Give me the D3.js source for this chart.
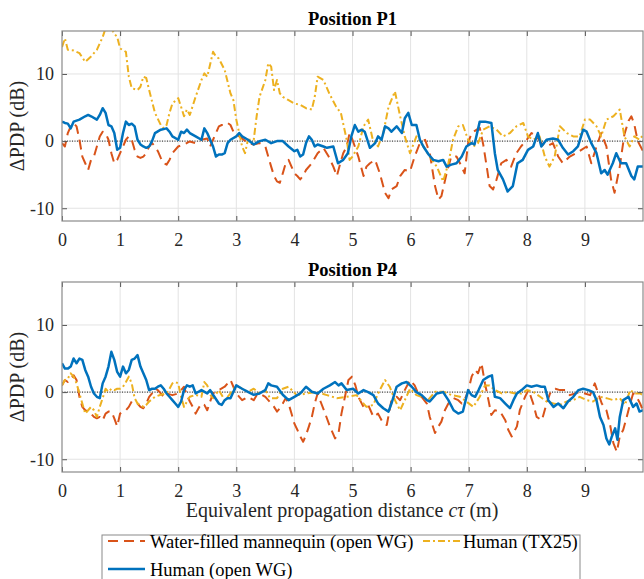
<!DOCTYPE html>
<html><head><meta charset="utf-8">
<script src="https://cdn.jsdelivr.net/npm/d3@7"></script>
</head><body style="margin:0;background:#fff">
<svg id="c" width="644" height="579"></svg>
<script>
// ---------- data ----------
const xTicks = [0,1,2,3,4,5,6,7,8,9];
const yTicks = [-10,0,10];
const xDomain = [0,10];
const yDomain = [-11.9,16.4];
const seriesNames = ["Water-filled mannequin (open WG)","Human (TX25)","Human (open WG)"];
const panelTitles = ["Position P1","Position P4"];

const p1Mannequin = [[0,-0.3],[0.05,-0.8],[0.1,1.2],[0.15,2.2],[0.2,2.7],[0.25,2.2],[0.3,0.2],[0.35,-2.3],[0.4,-3.3],[0.45,-4.3],[0.5,-2.8],[0.55,-2.3],[0.6,-0.8],[0.65,0.7],[0.7,1.4],[0.75,1.2],[0.8,0.2],[0.85,-1.8],[0.9,-3.3],[0.95,-2.8],[1.0,-1.8],[1.05,-0.8],[1.1,0.2],[1.15,0.7],[1.2,0.2],[1.25,-1.3],[1.3,-2.3],[1.35,-2.5],[1.4,-2.3],[1.45,-1.8],[1.5,-0.8],[1.55,-0.3],[1.6,-0.8],[1.65,-1.5],[1.7,-2.5],[1.75,-3.3],[1.8,-3.5],[1.85,-2.8],[1.9,-1.8],[2.0,-0.8],[2.1,-0.5],[2.2,-0.05],[2.3,-0.3],[2.4,0.2],[2.5,0.4],[2.55,-0.8],[2.6,0.2],[2.65,1.2],[2.7,2.2],[2.75,2.4],[2.8,2.4],[2.85,2.7],[2.9,2.4],[2.95,1.4],[3.0,1.2],[3.05,0.7],[3.1,0.4],[3.2,-0.3],[3.3,-0.5],[3.4,-0.3],[3.5,-0.8],[3.55,-2.3],[3.6,-3.8],[3.65,-5.2],[3.7,-6.0],[3.75,-6.2],[3.8,-4.8],[3.85,-3.3],[3.9,-2.8],[3.95,-3.8],[4.0,-4.8],[4.05,-5.2],[4.1,-5.7],[4.15,-5.2],[4.2,-4.3],[4.3,-3.3],[4.4,-1.8],[4.5,-1.0],[4.59,-2.3],[4.67,-3.8],[4.73,-5.2],[4.79,-3.3],[4.84,-1.8],[4.9,-0.8],[4.95,1.2],[5.0,0.2],[5.1,-2.3],[5.19,-5.2],[5.24,-3.8],[5.3,-3.3],[5.39,-2.8],[5.47,-4.8],[5.56,-7.7],[5.62,-8.5],[5.67,-7.2],[5.76,-6.7],[5.82,-5.2],[5.9,-4.3],[5.99,-4.5],[6.07,-2.3],[6.16,-0.3],[6.25,0.2],[6.33,-1.8],[6.42,-6.7],[6.48,-8.7],[6.53,-8.2],[6.62,-4.8],[6.7,-2.3],[6.79,-2.3],[6.85,-3.3],[6.93,-4.8],[6.99,-0.3],[7.05,1.2],[7.1,1.5],[7.19,2.0],[7.25,-0.5],[7.31,-3.8],[7.36,-6.7],[7.42,-7.2],[7.48,-5.7],[7.56,-3.3],[7.65,-2.8],[7.73,-3.8],[7.82,-1.8],[7.9,-0.8],[8.0,0.2],[8.08,1.2],[8.17,0.7],[8.25,-0.3],[8.34,-0.8],[8.45,-0.3],[8.54,-2.3],[8.62,-3.3],[8.74,-2.3],[8.85,-1.8],[8.94,-1.3],[9.03,-0.8],[9.11,-3.3],[9.2,-0.8],[9.28,1.2],[9.37,-0.8],[9.45,-5.7],[9.51,-7.7],[9.6,-3.8],[9.68,1.0],[9.75,3.0],[9.8,3.7],[9.85,2.5],[9.91,0.0],[10.0,-1.5]];

const p1Tx25 = [[0,14.0],[0.05,15.3],[0.1,13.6],[0.2,13.5],[0.3,13.1],[0.4,11.8],[0.5,12.6],[0.6,13.6],[0.7,15.5],[0.75,16.8],[0.8,16.3],[0.85,16.8],[0.9,16.0],[0.95,15.5],[1.0,13.8],[1.1,13.3],[1.15,9.6],[1.2,7.9],[1.3,7.6],[1.35,8.1],[1.4,9.6],[1.45,9.4],[1.5,7.6],[1.6,4.2],[1.7,2.4],[1.75,1.9],[1.8,2.4],[1.85,4.2],[1.9,5.6],[2.0,6.4],[2.05,5.1],[2.1,3.7],[2.15,4.7],[2.2,3.9],[2.3,6.6],[2.4,9.1],[2.45,10.1],[2.5,9.6],[2.6,13.3],[2.65,12.6],[2.7,12.3],[2.8,10.6],[2.9,7.1],[2.95,6.1],[3.0,3.2],[3.05,1.2],[3.1,-0.8],[3.15,-1.8],[3.2,0.2],[3.3,0.2],[3.35,3.7],[3.4,6.6],[3.5,9.1],[3.55,11.6],[3.6,11.1],[3.65,7.6],[3.7,9.1],[3.75,7.1],[3.8,6.6],[3.9,6.1],[4.0,5.6],[4.1,5.4],[4.2,4.9],[4.3,4.7],[4.35,6.6],[4.4,9.6],[4.5,9.1],[4.6,7.1],[4.72,5.1],[4.8,4.2],[4.9,0.2],[4.95,-2.8],[5.0,-2.3],[5.1,-0.8],[5.19,2.2],[5.27,3.2],[5.35,0.2],[5.44,-0.8],[5.53,1.2],[5.62,5.1],[5.73,7.4],[5.82,3.7],[5.9,0.7],[5.99,-1.8],[6.1,0.7],[6.22,-0.8],[6.33,-2.3],[6.45,-3.8],[6.56,-6.0],[6.65,-3.3],[6.73,0.2],[6.82,2.2],[6.9,2.4],[6.99,0.2],[7.08,-0.8],[7.16,-0.3],[7.25,1.7],[7.36,2.2],[7.48,1.7],[7.59,0.7],[7.71,1.2],[7.82,2.2],[7.94,2.7],[8.02,0.7],[8.11,0.2],[8.22,0.7],[8.31,-2.3],[8.39,-3.8],[8.48,-2.3],[8.57,2.2],[8.69,1.2],[8.8,0.7],[8.91,0.7],[9.0,3.2],[9.09,3.2],[9.2,2.2],[9.28,0.7],[9.37,3.2],[9.49,3.7],[9.6,4.7],[9.68,0.7],[9.77,-0.8],[9.85,0.7],[9.94,0.2],[10.0,0.9]];

const p1Human = [[0,2.9],[0.05,2.7],[0.1,2.6],[0.15,1.9],[0.2,2.9],[0.3,3.2],[0.4,3.7],[0.45,3.9],[0.5,3.7],[0.6,3.2],[0.65,3.9],[0.7,4.9],[0.75,4.2],[0.8,2.4],[0.85,2.2],[0.9,1.2],[0.95,-1.3],[1.0,-1.0],[1.05,1.2],[1.1,2.9],[1.15,2.4],[1.2,2.6],[1.25,2.2],[1.3,0.2],[1.35,-0.5],[1.4,-0.8],[1.45,-1.0],[1.5,-0.8],[1.55,0.0],[1.6,1.2],[1.7,1.7],[1.8,1.9],[1.85,1.4],[1.9,0.7],[2.0,0.2],[2.05,1.4],[2.1,1.2],[2.15,1.7],[2.2,1.2],[2.3,0.7],[2.4,0.2],[2.45,1.9],[2.5,1.2],[2.6,-0.8],[2.65,-2.3],[2.7,-2.0],[2.75,-2.0],[2.8,-1.8],[2.85,-0.3],[2.9,0.2],[3.0,0.7],[3.05,1.2],[3.1,0.7],[3.2,0.2],[3.3,-0.5],[3.4,0.0],[3.5,0.2],[3.6,-0.3],[3.7,0.0],[3.8,0.0],[3.9,-0.8],[4.0,-1.5],[4.05,-1.3],[4.1,-2.3],[4.15,-2.0],[4.2,-0.3],[4.25,0.7],[4.3,0.2],[4.35,-0.8],[4.4,-0.5],[4.5,-0.8],[4.56,-1.0],[4.67,-0.8],[4.75,-3.3],[4.84,-2.8],[4.92,-1.8],[4.98,0.7],[5.04,2.4],[5.1,1.4],[5.16,1.7],[5.21,1.4],[5.3,-1.0],[5.39,-0.3],[5.44,0.7],[5.5,0.2],[5.56,2.2],[5.62,1.9],[5.67,1.4],[5.76,2.2],[5.85,1.2],[5.9,3.4],[5.96,4.2],[6.02,2.4],[6.1,2.4],[6.16,0.2],[6.22,-0.8],[6.31,-2.0],[6.39,-2.8],[6.48,-3.0],[6.56,-2.8],[6.62,-3.8],[6.7,-3.5],[6.79,-3.3],[6.88,-2.3],[6.96,-0.8],[7.05,-0.3],[7.1,-0.5],[7.19,2.9],[7.28,2.9],[7.39,2.7],[7.45,-1.8],[7.5,-4.3],[7.59,-5.7],[7.67,-7.5],[7.76,-6.7],[7.84,-3.3],[7.93,-2.8],[8.02,-1.3],[8.11,-0.8],[8.19,1.2],[8.25,-0.8],[8.34,0.2],[8.45,0.4],[8.54,0.2],[8.62,-1.0],[8.71,-2.0],[8.8,-1.5],[8.88,-0.8],[8.97,1.7],[9.03,1.4],[9.11,-0.3],[9.2,-1.8],[9.28,-4.8],[9.34,-4.3],[9.39,-5.0],[9.48,-3.3],[9.54,-1.8],[9.62,-3.3],[9.71,-3.3],[9.8,-5.2],[9.85,-5.7],[9.91,-3.8],[10.0,-3.8]];

const p4Mannequin = [[0,1.0],[0.05,1.8],[0.1,1.5],[0.15,2.0],[0.2,2.5],[0.25,1.8],[0.3,-0.7],[0.35,-2.2],[0.4,-2.7],[0.45,-2.9],[0.5,-3.2],[0.55,-3.7],[0.6,-3.9],[0.65,-3.7],[0.7,-4.2],[0.75,-3.2],[0.8,-2.9],[0.85,-2.9],[0.9,-3.9],[0.95,-5.1],[1.0,-3.2],[1.05,-2.9],[1.1,-2.7],[1.15,-2.2],[1.2,-1.4],[1.25,-1.4],[1.3,-1.7],[1.35,-2.2],[1.4,-2.4],[1.45,-1.7],[1.5,-0.7],[1.55,-0.2],[1.6,0.5],[1.65,0.3],[1.7,-0.2],[1.75,-0.7],[1.8,-0.2],[1.9,-0.45],[2.0,-0.2],[2.05,0.3],[2.1,0.8],[2.15,-0.45],[2.2,-1.4],[2.25,-2.2],[2.3,-3.2],[2.35,-2.4],[2.4,-1.7],[2.45,-1.9],[2.5,-2.7],[2.55,-1.4],[2.6,-0.2],[2.7,0.3],[2.8,0.8],[2.85,1.3],[2.9,1.8],[2.95,0.8],[3.0,-0.2],[3.05,-0.7],[3.1,-1.2],[3.2,-0.7],[3.3,-1.2],[3.35,-0.45],[3.4,-0.2],[3.5,-0.7],[3.6,-1.7],[3.65,-2.2],[3.7,-2.9],[3.75,-2.4],[3.8,-1.7],[3.85,-0.9],[3.9,-1.7],[3.95,-3.2],[4.0,-4.7],[4.05,-5.6],[4.1,-6.6],[4.15,-7.4],[4.2,-6.4],[4.25,-5.1],[4.3,-3.7],[4.35,-1.7],[4.4,-0.2],[4.45,-1.4],[4.53,-3.2],[4.61,-5.1],[4.7,-6.9],[4.76,-6.1],[4.81,-3.2],[4.87,-0.7],[4.93,1.8],[4.99,2.3],[5.05,1.0],[5.1,-0.7],[5.19,-2.2],[5.27,-1.9],[5.36,-3.7],[5.44,-3.2],[5.53,-4.7],[5.59,-4.9],[5.67,-1.2],[5.76,-0.7],[5.82,-1.2],[5.9,0.3],[5.99,1.8],[6.07,1.0],[6.13,-0.2],[6.19,-0.7],[6.28,-1.7],[6.33,-3.7],[6.42,-6.1],[6.48,-5.1],[6.53,-4.4],[6.59,-2.7],[6.65,-1.7],[6.74,-0.9],[6.82,-1.2],[6.88,-1.7],[6.94,-0.9],[6.99,0.05],[7.05,2.3],[7.11,3.3],[7.16,2.8],[7.22,4.3],[7.28,1.3],[7.34,-1.2],[7.39,-3.4],[7.45,-2.7],[7.54,-2.9],[7.63,-4.2],[7.68,-5.6],[7.74,-6.6],[7.83,-5.1],[7.88,-2.7],[7.97,-0.7],[8.03,0.3],[8.11,-1.7],[8.17,-3.7],[8.26,-4.2],[8.34,-1.7],[8.4,-0.2],[8.49,0.5],[8.57,0.3],[8.66,0.3],[8.74,-0.45],[8.83,-0.2],[8.91,0.05],[9.0,-0.2],[9.09,-0.45],[9.17,1.3],[9.23,-0.2],[9.29,-1.7],[9.37,-2.7],[9.43,-4.7],[9.49,-7.6],[9.55,-8.9],[9.6,-6.6],[9.66,-5.6],[9.72,-3.7],[9.78,-1.7],[9.83,-0.2],[9.89,-0.7],[9.95,-1.7],[10.0,-2.7]];

const p4Tx25 = [[0,1.0],[0.05,1.8],[0.1,2.0],[0.15,2.8],[0.2,2.3],[0.25,1.3],[0.3,-0.2],[0.35,-1.7],[0.4,-3.2],[0.45,-2.7],[0.5,-2.2],[0.55,-2.7],[0.6,-3.7],[0.65,-2.2],[0.7,-0.9],[0.75,0.5],[0.8,0.05],[0.85,0.5],[0.9,0.3],[0.95,0.5],[1.0,0.5],[1.05,0.8],[1.1,1.5],[1.15,2.3],[1.2,1.3],[1.25,-0.9],[1.3,-1.7],[1.35,-1.9],[1.4,-2.2],[1.45,-1.9],[1.5,-1.4],[1.6,-0.7],[1.7,-0.4],[1.8,-0.2],[1.85,0.5],[1.9,1.3],[1.95,1.5],[2.0,1.3],[2.05,-0.7],[2.1,-2.2],[2.15,-1.4],[2.2,-0.7],[2.3,-0.4],[2.4,-0.7],[2.45,1.5],[2.5,1.0],[2.55,-0.4],[2.6,-0.9],[2.7,0.3],[2.8,-1.2],[2.9,-0.2],[3.0,1.0],[3.1,0.5],[3.2,0.05],[3.3,0.5],[3.4,-0.2],[3.5,0.3],[3.58,-0.9],[3.7,-0.9],[3.8,0.5],[3.9,0.8],[4.04,-0.45],[4.1,-0.4],[4.21,-0.2],[4.38,0.0],[4.56,-0.45],[4.73,-0.9],[4.9,-0.7],[5.07,-0.45],[5.16,-1.4],[5.24,-2.2],[5.36,-1.9],[5.44,-0.2],[5.56,1.8],[5.64,0.8],[5.73,-1.2],[5.82,-2.7],[5.9,-1.2],[5.99,0.5],[6.1,-0.45],[6.19,-0.7],[6.3,-1.2],[6.42,0.05],[6.56,0.05],[6.71,-0.45],[6.85,-0.7],[6.96,-1.4],[7.08,-2.2],[7.19,-0.7],[7.28,1.0],[7.36,1.0],[7.45,0.3],[7.57,-0.2],[7.68,0.05],[7.8,-0.2],[7.91,-0.2],[8.0,0.3],[8.11,0.05],[8.23,-0.7],[8.34,-1.4],[8.46,-1.7],[8.57,-1.9],[8.69,-1.4],[8.8,-1.2],[8.91,-0.7],[9.03,-1.2],[9.14,-1.4],[9.26,-0.7],[9.37,-0.9],[9.49,-1.2],[9.6,-0.9],[9.69,-1.9],[9.78,0.3],[9.86,-0.2],[9.95,-0.2],[10.0,-0.45]];

const p4Human = [[0,4.3],[0.05,3.5],[0.1,3.5],[0.15,3.8],[0.2,5.0],[0.25,4.3],[0.3,5.0],[0.35,4.8],[0.4,3.3],[0.45,2.3],[0.5,0.8],[0.55,-0.2],[0.6,-0.7],[0.65,-0.9],[0.7,1.3],[0.75,2.3],[0.8,3.8],[0.85,6.0],[0.9,4.8],[0.95,3.0],[1.0,2.3],[1.05,3.8],[1.1,2.8],[1.15,3.3],[1.2,4.8],[1.25,5.0],[1.3,5.5],[1.35,3.8],[1.4,2.8],[1.45,1.8],[1.5,0.3],[1.55,0.5],[1.6,0.5],[1.65,0.8],[1.7,1.0],[1.75,0.5],[1.8,-0.2],[1.85,-0.7],[1.9,-1.2],[1.95,-1.7],[2.0,-2.2],[2.05,-1.4],[2.1,0.3],[2.15,1.0],[2.2,0.8],[2.25,1.0],[2.3,-0.2],[2.35,0.05],[2.4,0.3],[2.5,-0.2],[2.55,0.3],[2.6,-0.4],[2.7,-1.7],[2.75,-1.9],[2.8,-1.2],[2.85,-0.9],[2.9,-0.9],[3.0,1.0],[3.1,0.5],[3.2,0.05],[3.3,-0.4],[3.4,-0.2],[3.5,0.3],[3.55,1.3],[3.6,1.0],[3.7,0.8],[3.8,-0.4],[3.9,-1.2],[4.0,-0.7],[4.1,-0.2],[4.2,0.8],[4.3,0.05],[4.4,-0.2],[4.5,0.5],[4.61,1.0],[4.7,1.5],[4.76,1.0],[4.81,1.3],[4.9,0.3],[5.01,0.5],[5.1,-0.2],[5.19,0.3],[5.27,0.0],[5.36,-0.45],[5.44,-1.7],[5.53,-2.4],[5.62,-2.9],[5.67,-1.7],[5.76,0.8],[5.85,1.3],[5.93,1.5],[6.02,0.8],[6.1,0.0],[6.19,-0.45],[6.28,-1.2],[6.33,-1.4],[6.45,-0.2],[6.56,0.0],[6.65,-1.2],[6.74,-2.7],[6.82,-3.2],[6.9,-2.9],[6.99,0.3],[7.05,-0.45],[7.11,-0.7],[7.17,0.3],[7.25,1.8],[7.34,2.3],[7.4,2.5],[7.45,-0.7],[7.54,-0.9],[7.63,-1.7],[7.71,-2.4],[7.77,-1.2],[7.83,-0.2],[7.91,0.3],[8.0,1.0],[8.08,0.8],[8.17,1.0],[8.25,0.8],[8.31,0.8],[8.37,-1.2],[8.46,-2.2],[8.54,-1.7],[8.63,-2.4],[8.71,-1.4],[8.8,-0.7],[8.89,0.3],[8.97,0.5],[9.06,0.3],[9.14,0.0],[9.2,-1.2],[9.26,-3.7],[9.32,-4.9],[9.37,-6.9],[9.42,-7.8],[9.46,-6.7],[9.52,-5.4],[9.56,-7.1],[9.6,-3.7],[9.66,-1.2],[9.75,-0.7],[9.83,-2.2],[9.89,-1.7],[9.94,-2.9],[10.0,-2.7]];

// ---------- styles ----------
const FONT = "Liberation Serif";
const colors = {mannequin:"#D95319", tx25:"#EDB120", human:"#0072BD"};
const styles = [
  {key:"mannequin", dash:"10,6", width:2},
  {key:"tx25", dash:"7,3,2,3", width:2},
  {key:"human", dash:null, width:2.5}
];

const svg = d3.select("#c");
const L = 62, R = 643;
const x = d3.scaleLinear().domain(xDomain).range([L,R]);

function txt(sel, size, weight){
  return sel.attr("font-family",FONT).attr("font-size",size+"px")
    .attr("font-weight",weight||"normal");
}

function panel(top, bottom, title, data, idx){
  const y = d3.scaleLinear().domain(yDomain).range([bottom, top]);
  const g = svg.append("g");
  const cid = "clip"+idx;
  svg.append("clipPath").attr("id",cid).append("rect")
    .attr("x",L).attr("y",top).attr("width",R-L).attr("height",bottom-top);
  g.selectAll(".gx").data(xTicks.slice(1)).enter().append("line")
    .attr("x1",d=>x(d)).attr("x2",d=>x(d)).attr("y1",top).attr("y2",bottom)
    .attr("stroke","#e3e3e3").attr("stroke-width",1);
  g.selectAll(".gy").data(yTicks).enter().append("line")
    .attr("x1",L).attr("x2",R).attr("y1",d=>y(d)).attr("y2",d=>y(d))
    .attr("stroke","#e3e3e3").attr("stroke-width",1);
  g.append("line").attr("x1",L).attr("x2",R).attr("y1",y(0)).attr("y2",y(0))
    .attr("stroke","#222").attr("stroke-width",1).attr("stroke-dasharray","1,1.5");
  const line = d3.line().x(d=>x(d[0])).y(d=>y(d[1]));
  const lg = g.append("g").attr("clip-path",`url(#${cid})`);
  data.forEach((arr,i)=>{
    const s = styles[i];
    lg.append("path").datum(arr).attr("d",line).attr("fill","none")
      .attr("stroke",colors[s.key]).attr("stroke-width",s.width)
      .attr("stroke-linejoin","round")
      .attr("stroke-dasharray",s.dash);
  });
  const ax = g.append("g").attr("transform",`translate(0,${bottom})`)
    .call(d3.axisBottom(x).tickValues(xTicks).tickSize(-5).tickPadding(12).tickFormat(d3.format("d")));
  const axTop = g.append("g").attr("transform",`translate(0,${top})`)
    .call(d3.axisTop(x).tickValues(xTicks).tickSize(-5).tickFormat(""));
  const ay = g.append("g").attr("transform",`translate(${L},0)`)
    .call(d3.axisLeft(y).tickValues(yTicks).tickSize(-5).tickPadding(8).tickFormat(d=>d<0?"-"+Math.abs(d):d));
  const ayR = g.append("g").attr("transform",`translate(${R},0)`)
    .call(d3.axisRight(y).tickValues(yTicks).tickSize(-5).tickFormat(""));
  [ax,axTop,ay,ayR].forEach(a=>{
    a.attr("font-family",FONT).attr("font-size","18px");
    a.select(".domain").remove();
    a.selectAll("line").attr("stroke","#555").attr("stroke-width",1);
    txt(a.selectAll("text"),18).attr("fill","#262626");
  });
  g.append("rect").attr("x",L).attr("y",top).attr("width",R-L).attr("height",bottom-top)
    .attr("fill","none").attr("stroke","#8a8a8a").attr("stroke-width",1.2);
  txt(g.append("text"),18.5,"bold").attr("x",(L+R)/2).attr("y",top-6).attr("text-anchor","middle")
    .attr("fill","#000").text(title);
  txt(g.append("text"),20).attr("transform",`translate(24,${(top+bottom)/2}) rotate(-90)`)
    .attr("text-anchor","middle").attr("fill","#262626").text("ΔPDP (dB)");
}

panel(31, 221, panelTitles[0], [p1Mannequin,p1Tx25,p1Human], 1);
panel(282, 472, panelTitles[1], [p4Mannequin,p4Tx25,p4Human], 2);

const xl = txt(svg.append("text"),20).attr("x",342).attr("y",517).attr("text-anchor","middle").attr("fill","#262626");
xl.append("tspan").text("Equivalent propagation distance ");
xl.append("tspan").attr("font-style","italic").text("cτ");
xl.append("tspan").text(" (m)");

const leg = svg.append("g");
leg.append("rect").attr("x",102).attr("y",535).attr("width",478).attr("height",60)
  .attr("fill","#fff").attr("stroke","#8a8a8a").attr("stroke-width",1);
const legItems = [
  {i:0, lx:108, ly:541, tx:150},
  {i:1, lx:423, ly:541, tx:463},
  {i:2, lx:108, ly:569, tx:150}
];
legItems.forEach(it=>{
  const s = styles[it.i];
  leg.append("line").attr("x1",it.lx).attr("x2",it.lx+37).attr("y1",it.ly).attr("y2",it.ly)
    .attr("stroke",colors[s.key]).attr("stroke-width",s.width).attr("stroke-dasharray",s.dash);
  txt(leg.append("text"),18.5).attr("x",it.tx).attr("y",it.ly+7).attr("fill","#000")
    .text(seriesNames[it.i]);
});
</script></body></html>
